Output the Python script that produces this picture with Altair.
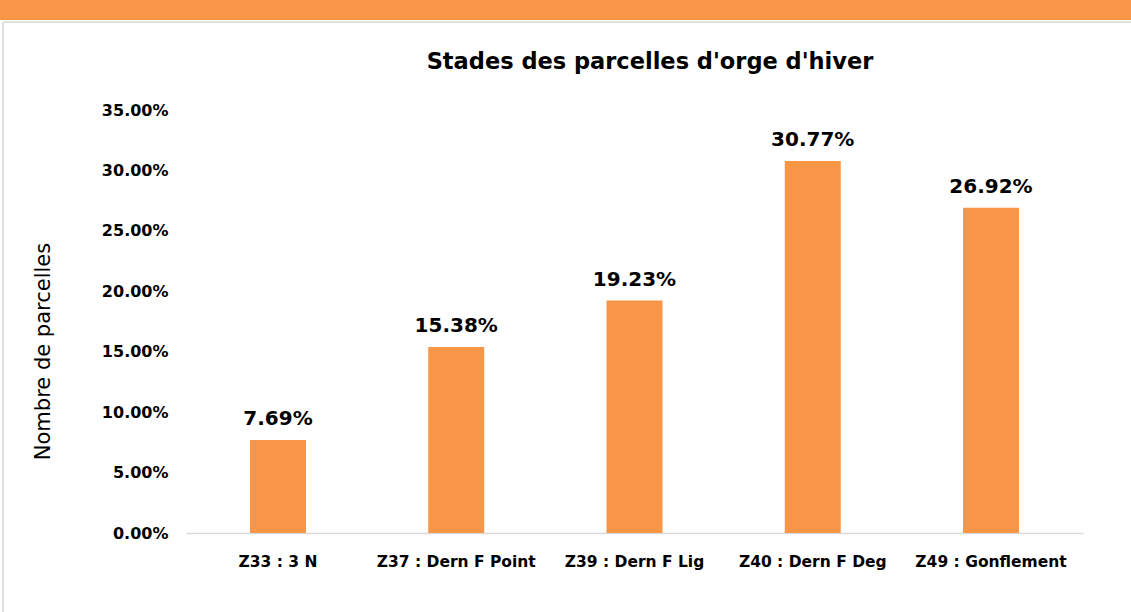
import altair as alt
import pandas as pd

stages = ["Z33 : 3 N", "Z37 : Dern F Point", "Z39 : Dern F Lig", "Z40 : Dern F Deg", "Z49 : Gonflement"]
shares = [0.0769, 0.1538, 0.1923, 0.3077, 0.2692]
chart_title = ["Stades des parcelles d'orge d'hiver"]

df = pd.DataFrame({"stade": stages, "part": shares})
df_title = pd.DataFrame({"t": chart_title})

FONT = "DejaVu Sans"
ORANGE = "#F79646"
LEFT, TOP = 186, 110
W, H = 897, 423

x = alt.X("stade:N", sort=stages, title=None,
          scale=alt.Scale(paddingInner=0.686, paddingOuter=0.359),
          axis=alt.Axis(labelAngle=0, labelFont=FONT, labelFontSize=15.5, labelFontWeight="bold",
                        labelColor="#000000", labelPadding=21, ticks=False,
                        domainColor="#D9D9D9", domainWidth=1.5))
y = alt.Y("part:Q", title="Nombre de parcelles",
          scale=alt.Scale(domain=[0, 0.35], nice=False),
          axis=alt.Axis(format=".2%", values=[0, 0.05, 0.10, 0.15, 0.20, 0.25, 0.30, 0.35],
                        labelFont=FONT, labelFontSize=16, labelFontWeight="bold", labelColor="#000000",
                        labelPadding=18, ticks=False, domain=False, grid=False,
                        titleFont=FONT, titleFontSize=21, titleFontWeight="normal", titleColor="#000000",
                        titlePadding=48, titleY=241))

base = alt.Chart(df)
bars = base.mark_bar(color=ORANGE).encode(x=x, y=y)
labels = base.mark_text(font=FONT, fontSize=20, fontWeight="bold", color="#000000",
                        baseline="alphabetic", dy=-15).encode(x=x, y=y, text=alt.Text("part:Q", format=".2%"))

title = alt.Chart(df_title).mark_text(font=FONT, fontSize=22.5, fontWeight="bold", color="#000000",
                                       baseline="middle", align="center", clip=False).encode(
    x=alt.value(650 - LEFT), y=alt.value(62 - TOP), text="t:N")

banner = alt.Chart(df_title).mark_rect(color=ORANGE, clip=False).encode(
    x=alt.value(-LEFT), x2=alt.value(1131 - LEFT), y=alt.value(-TOP), y2=alt.value(20 - TOP))
hline = alt.Chart(df_title).mark_rule(color="#D9D9D9", strokeWidth=1.5, clip=False).encode(
    x=alt.value(3 - LEFT), x2=alt.value(1131 - LEFT), y=alt.value(22 - TOP))
vline = alt.Chart(df_title).mark_rule(color="#D9D9D9", strokeWidth=1.5, clip=False).encode(
    x=alt.value(3 - LEFT), y=alt.value(22 - TOP), y2=alt.value(612 - TOP))

chart = alt.layer(banner, hline, vline, title, bars, labels).properties(
    width=W, height=H,
    padding={"left": LEFT, "top": TOP, "right": 1131 - LEFT - W, "bottom": 612 - TOP - H},
    autosize=alt.AutoSizeParams(type="none"),
).configure(background="white", view=alt.ViewConfig(stroke="transparent", strokeWidth=0))

chart.save("out.html", embed_options={"renderer": "svg", "actions": False})
